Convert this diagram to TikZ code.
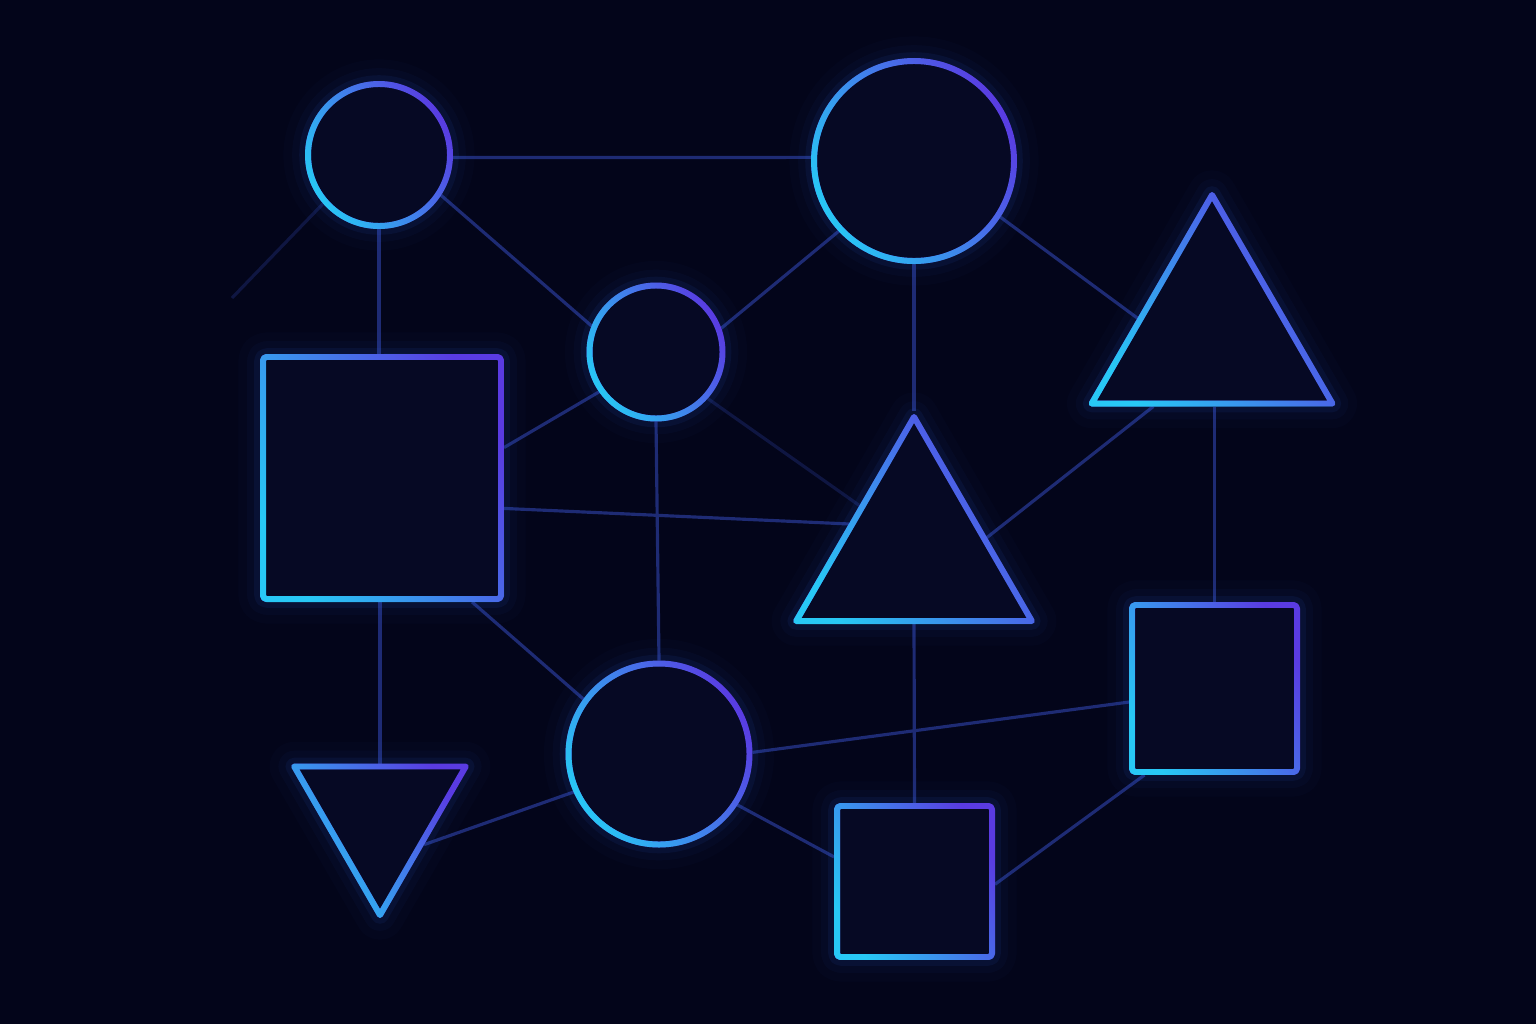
\documentclass[tikz,border=0pt]{standalone}
\usepackage{tikz}
\usetikzlibrary{arrows,shapes,fadings}
\pgfdeclarelayer{background}
\pgfsetlayers{background,main}
\definecolor{bgnavy}{HTML}{03051A}
\definecolor{edgeblue}{HTML}{1E2B74}
\definecolor{neonpurple}{HTML}{5A3BE2}
\definecolor{neoncyan}{HTML}{28C8F5}
\definecolor{innerfill}{HTML}{060924}
\definecolor{glowblue}{HTML}{2F6AE8}
\tikzfading[name=neonfade, bottom color=transparent!0, top color=transparent!100]
\tikzstyle{neon}=[draw=neonpurple,line width=1.7pt,fill=innerfill,inner sep=0pt,line join=round,
    preaction={draw=glowblue,line width=14pt,draw opacity=0.025},
    preaction={draw=glowblue,line width=9pt,draw opacity=0.04},
    preaction={draw=glowblue,line width=5pt,draw opacity=0.08},
    postaction={draw=neoncyan,line width=1.7pt,path fading=neonfade,fading angle=-60}]
\tikzstyle{ring}=[neon,circle]
\tikzstyle{box}=[neon,rectangle,rounded corners=1pt]
\tikzstyle{tri}=[neon,regular polygon,regular polygon sides=3]
\tikzstyle{edge}=[draw,edgeblue,line width=0.9pt]
\tikzstyle{faint edge}=[edge,draw opacity=0.45]

\begin{document}
\begin{tikzpicture}
    % background
    \useasboundingbox (0,0) rectangle (15.36,10.24);
    % First we draw the shapes
    \foreach \pos/\name/\size in {{(3.79,8.69)/A/1.42}, {(9.14,8.63)/B/2.00}, {(6.56,6.72)/C/1.33}, {(6.59,2.70)/G/1.81}}
        \node[ring,minimum size=\size cm] (\name) at \pos {};

    \foreach \pos/\name/\bw/\bh in {{(3.82,5.46)/D/2.38/2.42}, {(12.145,3.355)/I/1.65/1.67}, {(9.145,1.425)/J/1.55/1.51}}
        \node[box,minimum width=\bw cm,minimum height=\bh cm] (\name) at \pos {};

    \foreach \pos/\name/\size/\turn in {{(12.12,6.90)/E/2.78/0}, {(9.14,4.71)/F/2.72/0}, {(3.80,2.08)/H/1.98/180}}
        \node[tri,minimum size=\size cm,shape border rotate=\turn] (\name) at \pos {};

    \coordinate (Aout) at (2.32,7.26);

    % Connect shapes with lines
    \begin{pgfonlayer}{background}
        \fill[bgnavy] (0,0) rectangle (15.36,10.24);
        \foreach \source/\dest in {A.-2/B.178, A.-33/C.158, A.-90/{A.-90 |- D.north}, B.-137/C.20, B.-33.5/E.168,
                B.-90/F.90, C.-145/D.14, C.-90/G.90, D.-14/F.156, D.-54/G.144, {H.90 |- D.south}/H.90,
                {I.90 |- E.-90}/I.90, E.-129/F.12.5, F.-90/J.90, G.1/I.189, G.-156/H.-33, G.-33/J.163, I.-129/J.-2.5}
            \path[edge] (\source) -- (\dest);
        \foreach \source/\dest in {A.-139/Aout, C.-42/F.139}
            \path[faint edge] (\source) -- (\dest);
    \end{pgfonlayer}
\end{tikzpicture}
\end{document}
